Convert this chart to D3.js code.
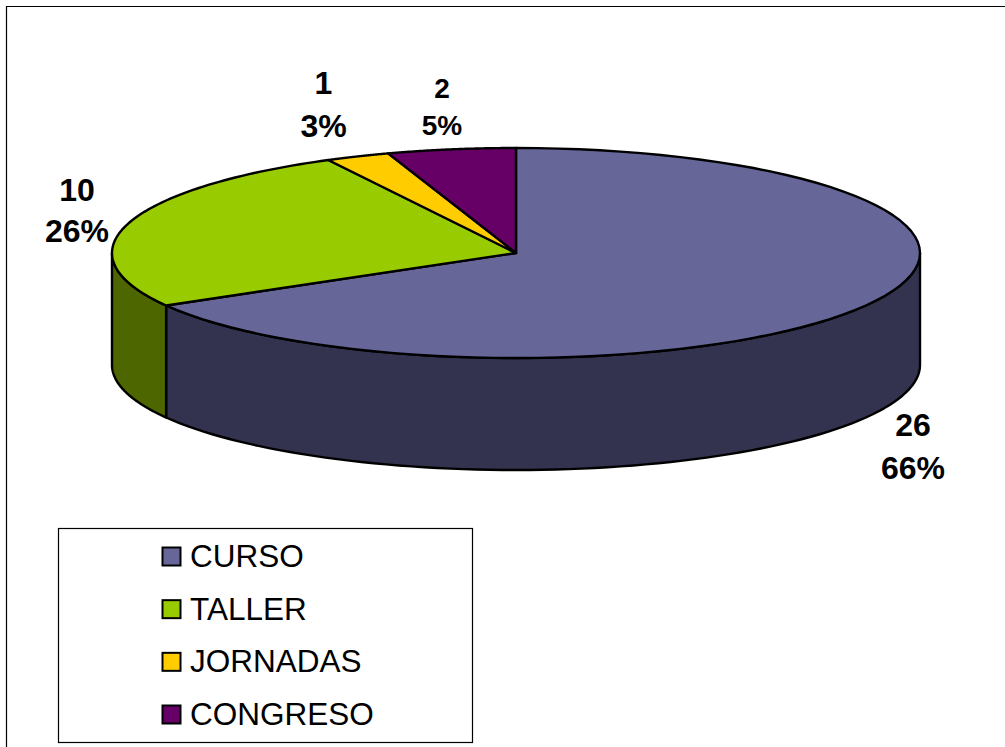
<!DOCTYPE html>
<html><head><meta charset="utf-8">
<script src="https://cdn.jsdelivr.net/npm/d3@7/dist/d3.min.js"></script>
<style>html,body{margin:0;padding:0;background:#fff}svg{display:block}text{font-family:"Liberation Sans",Arial,sans-serif;fill:#000}</style>
</head><body><div id="c"></div>
<script>
const categories = ["CURSO","TALLER","JORNADAS","CONGRESO"];
const values = [26,10,1,2];
const percentLabels = ["66%","26%","3%","5%"];
const topColors = ["#666699","#99CC00","#FFCC00","#660066"];
const wallColors = ["#333350","#4D6600","#806600","#330033"];

const W=1005,H=747;
const svg=d3.select("#c").append("svg").attr("width",W).attr("height",H);
const cx=516,cy=253,rx=404,ry=105,depth=112;
const sx=d3.scaleLinear().domain([-1,1]).range([cx-rx,cx+rx]);
const sy=d3.scaleLinear().domain([-1,1]).range([cy-ry,cy+ry]);
const line=d3.line().x(d=>sx(d[0])).y(d=>sy(d[1])+(d[2]||0));
const pt=(a,dz)=>[Math.sin(a),-Math.cos(a),dz||0];
const sample=(a0,a1,dz)=>d3.range(0,81).map(i=>pt(a0+(a1-a0)*i/80,dz));

// frame
svg.append("path").attr("d",`M6.5,${H} V6.5 H${W}`).attr("fill","none").attr("stroke","#000").attr("stroke-width",1.2);

const arcs=d3.pie().sort(null).value(d=>d)(values);
const stroke=g=>g.attr("stroke","#000").attr("stroke-width",2.4).attr("stroke-linejoin","round");

// side walls: only the front half of the rim is visible
arcs.forEach((a,i)=>{
  const a0=Math.max(a.startAngle,Math.PI/2), a1=Math.min(a.endAngle,3*Math.PI/2);
  if(a1<=a0) return;
  const pts=sample(a0,a1,0).concat(sample(a1,a0,depth));
  svg.append("path").attr("d",line(pts)+"Z").attr("fill",wallColors[i]).call(stroke);
});
// top face
arcs.forEach((a,i)=>{
  const pts=[[0,0,0]].concat(sample(a.startAngle,a.endAngle,0));
  svg.append("path").attr("d",line(pts)+"Z").attr("fill",topColors[i]).call(stroke);
});

// data labels
const labelLayout=[
 {x:913,y1:436,y2:479,s:32},
 {x:77,y1:201,y2:242,s:32},
 {x:323.5,y1:94,y2:137,s:32},
 {x:442,y1:98,y2:135,s:28}
];
labelLayout.forEach((l,i)=>{
  svg.append("text").attr("x",l.x).attr("y",l.y1).attr("text-anchor","middle").attr("font-weight","bold").attr("font-size",l.s).text(values[i]);
  svg.append("text").attr("x",l.x).attr("y",l.y2).attr("text-anchor","middle").attr("font-weight","bold").attr("font-size",l.s).text(percentLabels[i]);
});

// legend
svg.append("rect").attr("x",58.5).attr("y",528.5).attr("width",414).attr("height",214).attr("fill","#fff").attr("stroke","#000").attr("stroke-width",1.2);
const ly=d3.scalePoint().domain(categories).range([557,715]);
categories.forEach((c,i)=>{
  svg.append("rect").attr("x",162.5).attr("y",ly(c)-9.5).attr("width",18).attr("height",18).attr("fill",topColors[i]).attr("stroke","#000").attr("stroke-width",2);
  svg.append("text").attr("x",190).attr("y",ly(c)+10).attr("font-size",31.5).text(c);
});
</script></body></html>
